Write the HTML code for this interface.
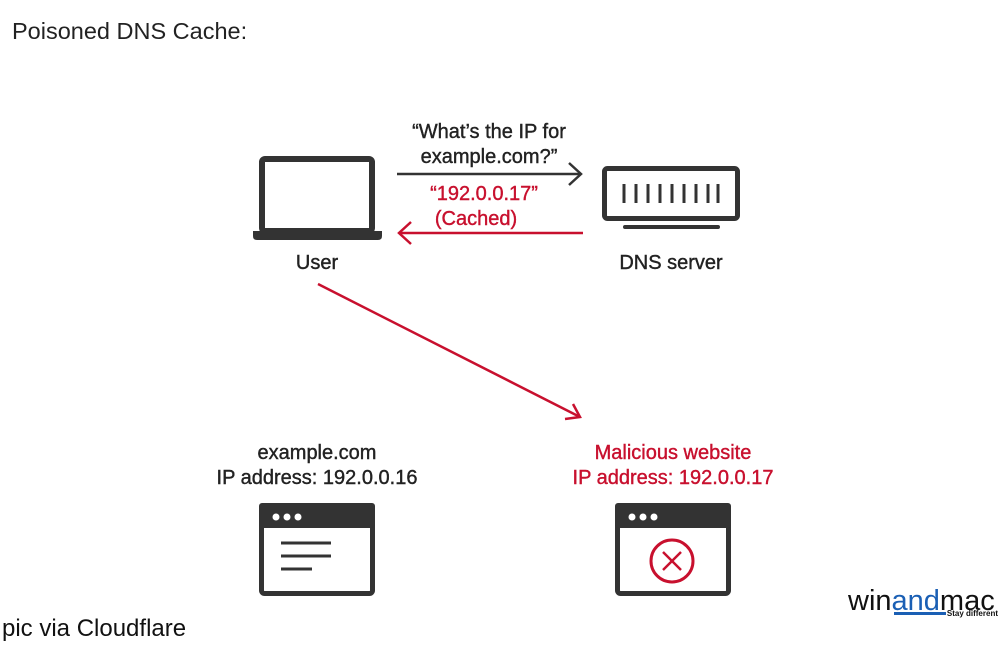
<!DOCTYPE html>
<html><head><style>
body{margin:0;width:1000px;height:642px;background:#fff;overflow:hidden;font-family:"Liberation Sans",sans-serif;}
</style></head><body>
<svg width="1000" height="642" viewBox="0 0 1000 642" xmlns="http://www.w3.org/2000/svg" font-family="Liberation Sans, sans-serif">
<text x="12" y="39" font-size="23.5" fill="#222">Poisoned DNS Cache:</text>
<!-- laptop -->
<rect x="262" y="159" width="110" height="72" rx="3" fill="none" stroke="#333" stroke-width="6"/>
<path d="M253 231 H382 V236 Q382 240 378 240 H257 Q253 240 253 236 Z" fill="#333"/>
<g font-size="20" stroke-width="0.4">
<text x="317" y="269" fill="#222" stroke="#222" text-anchor="middle">User</text>
<text x="671" y="269" fill="#222" stroke="#222" text-anchor="middle">DNS server</text>
<text x="489" y="138" fill="#222" stroke="#222" text-anchor="middle">“What’s the IP for</text>
<text x="489" y="163" fill="#222" stroke="#222" text-anchor="middle">example.com?”</text>
<text x="484" y="200" fill="#c8102e" stroke="#c8102e" text-anchor="middle">“192.0.0.17”</text>
<text x="476" y="225" fill="#c8102e" stroke="#c8102e" text-anchor="middle">(Cached)</text>
<text x="317" y="459" fill="#222" stroke="#222" text-anchor="middle">example.com</text>
<text x="317" y="484" fill="#222" stroke="#222" text-anchor="middle">IP address: 192.0.0.16</text>
<text x="673" y="459" fill="#c8102e" stroke="#c8102e" text-anchor="middle">Malicious website</text>
<text x="673" y="484" fill="#c8102e" stroke="#c8102e" text-anchor="middle">IP address: 192.0.0.17</text>
</g>
<!-- server -->
<rect x="604.5" y="168.5" width="133" height="50" rx="3" fill="none" stroke="#333" stroke-width="5"/>
<g stroke="#333" stroke-width="3">
<line x1="624" y1="184" x2="624" y2="203"/><line x1="636" y1="184" x2="636" y2="203"/><line x1="648" y1="184" x2="648" y2="203"/><line x1="660" y1="184" x2="660" y2="203"/><line x1="672" y1="184" x2="672" y2="203"/><line x1="684" y1="184" x2="684" y2="203"/><line x1="696" y1="184" x2="696" y2="203"/><line x1="708" y1="184" x2="708" y2="203"/><line x1="718" y1="184" x2="718" y2="203"/>
</g>
<line x1="625" y1="227" x2="718" y2="227" stroke="#333" stroke-width="4" stroke-linecap="round"/>
<!-- arrows -->
<line x1="397" y1="174" x2="581" y2="174" stroke="#333" stroke-width="2.5"/>
<polyline points="569,163 581,174 569,185" fill="none" stroke="#333" stroke-width="2.5"/>
<line x1="399" y1="233" x2="583" y2="233" stroke="#c8102e" stroke-width="2.5"/>
<polyline points="411,222 399,233 411,244" fill="none" stroke="#c8102e" stroke-width="2.5"/>
<line x1="318" y1="284" x2="580" y2="417" stroke="#c8102e" stroke-width="2.5"/>
<polyline points="565,419 580,417 573,404" fill="none" stroke="#c8102e" stroke-width="2.5"/>
<!-- windows -->
<rect x="261.5" y="505.5" width="111" height="88" rx="3" fill="none" stroke="#333" stroke-width="5"/>
<rect x="259" y="503" width="116" height="25" rx="3" fill="#333"/>
<circle cx="276" cy="517" r="3.5" fill="#fff"/><circle cx="287" cy="517" r="3.5" fill="#fff"/><circle cx="298" cy="517" r="3.5" fill="#fff"/>
<g stroke="#333" stroke-width="3"><line x1="281" y1="543" x2="331" y2="543"/><line x1="281" y1="556" x2="331" y2="556"/><line x1="281" y1="569" x2="312" y2="569"/></g>
<rect x="617.5" y="505.5" width="111" height="88" rx="3" fill="none" stroke="#333" stroke-width="5"/>
<rect x="615" y="503" width="116" height="25" rx="3" fill="#333"/>
<circle cx="632" cy="517" r="3.5" fill="#fff"/><circle cx="643" cy="517" r="3.5" fill="#fff"/><circle cx="654" cy="517" r="3.5" fill="#fff"/>
<circle cx="672" cy="561" r="21" fill="none" stroke="#c8102e" stroke-width="3"/>
<g stroke="#c8102e" stroke-width="2.5"><line x1="663" y1="552" x2="681" y2="570"/><line x1="681" y1="552" x2="663" y2="570"/></g>
<text x="2" y="636" font-size="24" fill="#111">pic via Cloudflare</text>
<text x="848" y="610" font-size="29" fill="#111">win<tspan fill="#1a5fb4">and</tspan>mac</text>
<rect x="894" y="612" width="52" height="3" fill="#1a5fb4"/>
<text x="998" y="616" font-size="8" font-weight="bold" fill="#111" text-anchor="end">Stay different</text>
</svg>
</body></html>
